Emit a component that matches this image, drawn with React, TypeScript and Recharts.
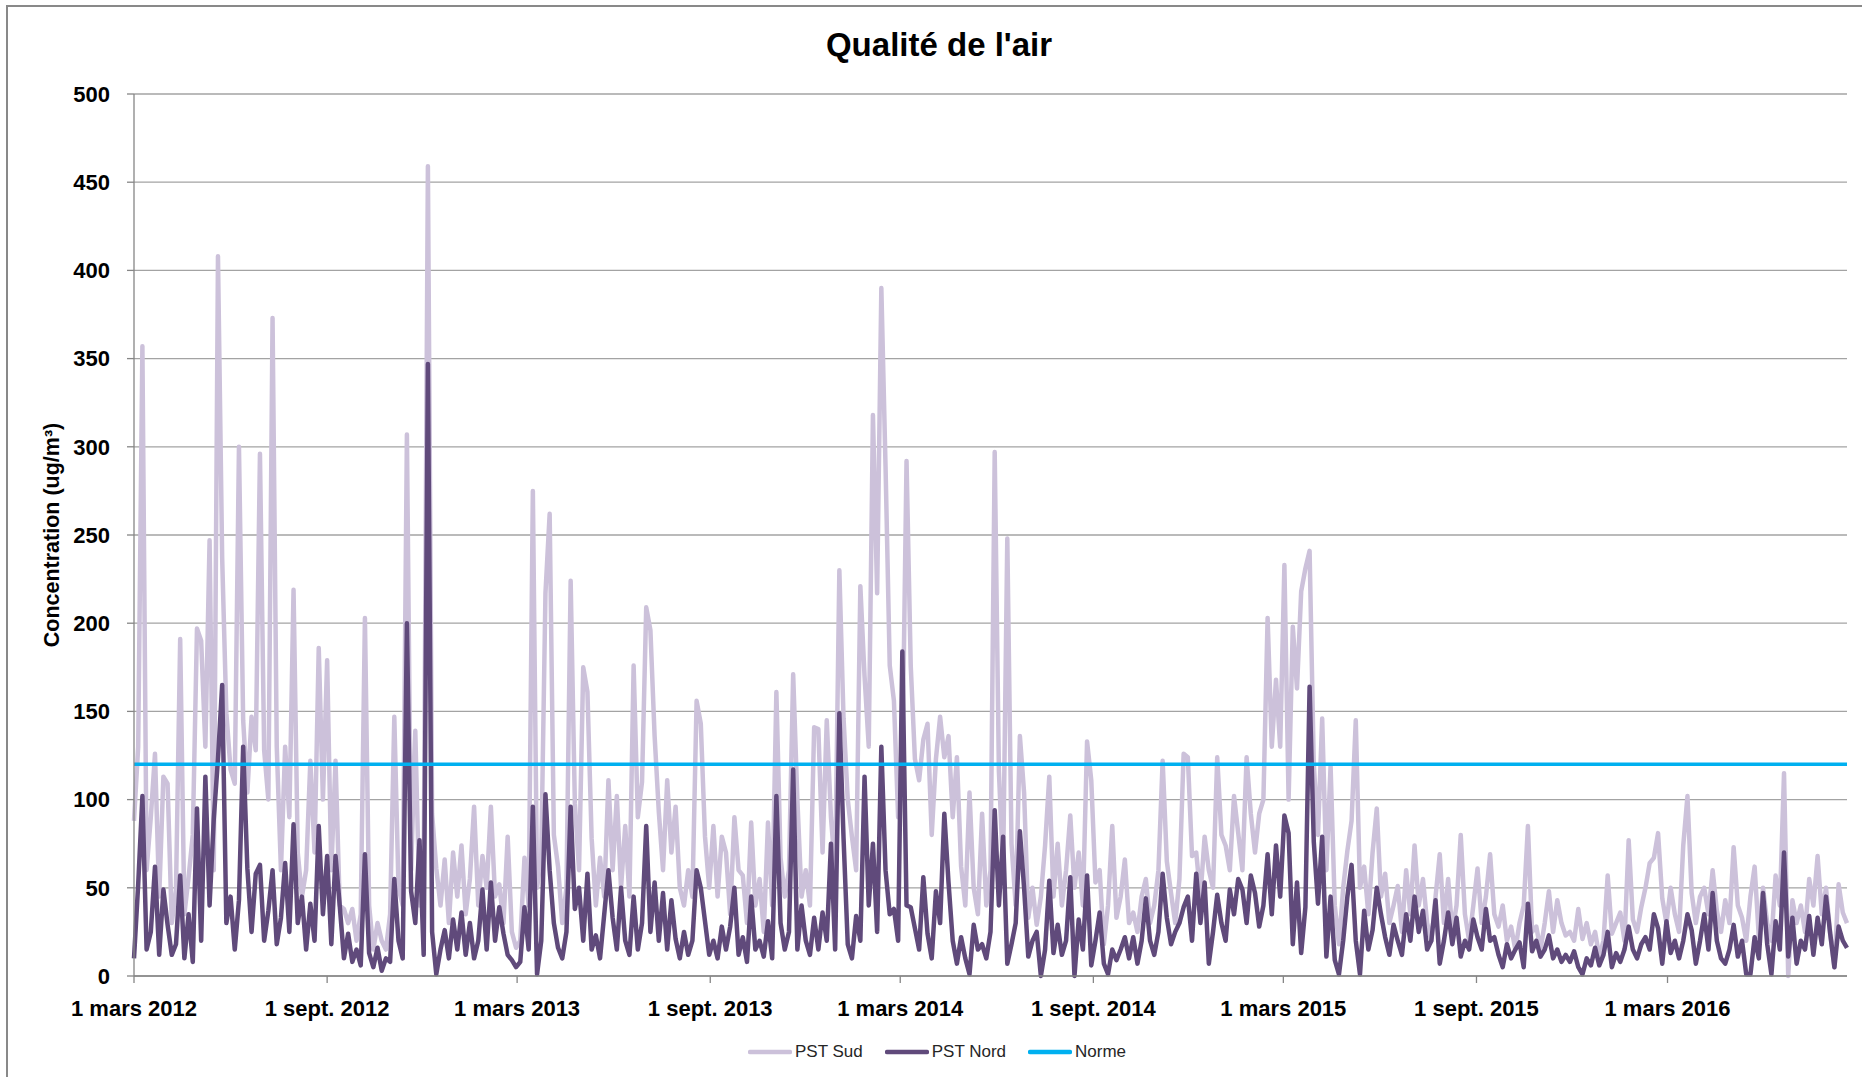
import React from 'react';
import {
  LineChart,
  Line,
  XAxis,
  YAxis,
  CartesianGrid,
  Legend,
} from 'recharts';

// one reading every 4 days, starting 1 mars 2012
const stepDays = 4;

const pstSud = [
  88, 130, 357, 60, 90, 126, 45, 113, 109, 30,
  49, 191, 35, 56, 80, 197, 190, 130, 247, 60,
  408, 237, 149, 117, 109, 300, 145, 104, 147, 128,
  296, 128, 100, 373, 130, 60, 130, 90, 219, 70,
  45, 60, 122, 70, 186, 100, 179, 60, 122, 40,
  38, 30, 38, 20, 35, 203, 40, 15, 30, 20,
  15, 35, 147, 50, 40, 307, 60, 139, 40, 60,
  459, 92, 61, 40, 66, 30, 70, 45, 74, 35,
  55, 96, 40, 68, 50, 96, 45, 52, 30, 79,
  25, 16, 20, 67, 40, 275, 50, 68, 217, 262,
  80, 62, 30, 50, 224, 98, 60, 175, 161, 78,
  40, 67, 45, 111, 60, 102, 50, 85, 45, 176,
  90, 110, 209, 196, 136, 93, 60, 111, 70, 96,
  50, 40, 60, 45, 156, 143, 79, 50, 85, 45,
  79, 70, 35, 90, 60, 57, 30, 87, 40, 55,
  25, 87, 40, 161, 67, 45, 60, 171, 100, 45,
  60, 40, 141, 140, 70, 145, 90, 60, 230, 146,
  100, 79, 60, 221, 170, 130, 318, 217, 390, 289,
  176, 156, 90, 120, 292, 176, 123, 111, 134, 143,
  80, 123, 147, 124, 136, 90, 124, 62, 40, 104,
  50, 35, 92, 40, 60, 297, 116, 60, 248, 75,
  40, 136, 104, 33, 50, 29, 45, 74, 113, 45,
  75, 40, 60, 91, 50, 70, 40, 133, 111, 53,
  60, 18, 40, 85, 33, 45, 66, 30, 36, 25,
  45, 55, 30, 40, 60, 122, 65, 47, 30, 55,
  126, 124, 68, 70, 45, 79, 60, 50, 124, 80,
  74, 60, 102, 81, 60, 124, 92, 70, 92, 100,
  203, 130, 168, 130, 233, 100, 198, 163, 218, 231,
  241, 120, 80, 146, 60, 119, 40, 18, 50, 71,
  88, 145, 50, 62, 35, 70, 95, 45, 58, 30,
  40, 51, 25, 60, 35, 74, 40, 55, 30, 20,
  45, 69, 30, 55, 25, 40, 80, 35, 20, 40,
  61, 30, 45, 69, 35, 28, 40, 20, 28, 15,
  30, 40, 85, 25, 28, 15, 30, 48, 25, 43,
  30, 23, 25, 20, 38, 21, 30, 18, 25, 11,
  20, 57, 24, 30, 36, 20, 77, 32, 25, 39,
  50, 64, 67, 81, 44, 30, 50, 35, 25, 74,
  102, 47, 30, 45, 50, 35, 60, 37, 25, 43,
  30, 73, 40, 33, 20, 45, 62, 22, 50, 30,
  20, 57, 40, 115, 0, 43, 30, 40, 25, 55,
  40, 68, 35, 50, 24, 5, 52, 36, 30,
];

const pstNord = [
  10, 52, 102, 15, 25, 62, 12, 49, 29, 12,
  18, 57, 10, 35, 8, 95, 20, 113, 40, 89,
  123, 165, 30, 45, 15, 43, 130, 61, 25, 58,
  63, 20, 37, 60, 18, 33, 64, 25, 86, 30,
  45, 15, 41, 20, 85, 35, 68, 18, 68, 40,
  10, 24, 8, 15, 6, 69, 13, 5, 16, 3,
  10, 8, 55, 20, 10, 200, 48, 30, 77, 12,
  347, 25, 1, 15, 26, 10, 32, 15, 36, 12,
  30, 10, 20, 49, 15, 53, 20, 39, 24, 12,
  9, 5, 8, 39, 15, 96, 1, 20, 103, 60,
  30, 16, 10, 25, 96, 38, 50, 20, 58, 15,
  23, 10, 35, 60, 33, 15, 50, 20, 12, 45,
  15, 30, 85, 25, 53, 20, 47, 15, 43, 21,
  10, 25, 12, 20, 60, 50, 31, 12, 20, 10,
  28, 15, 28, 50, 12, 22, 8, 45, 15, 20,
  11, 31, 10, 102, 30, 15, 25, 117, 15, 40,
  20, 12, 33, 15, 36, 20, 75, 15, 149, 78,
  18, 10, 34, 20, 113, 40, 75, 25, 130, 60,
  35, 38, 20, 184, 40, 39, 27, 15, 56, 24,
  10, 48, 30, 92, 53, 20, 7, 22, 10, 1,
  29, 15, 18, 10, 25, 94, 40, 79, 7, 18,
  30, 82, 50, 11, 20, 25, 0, 15, 54, 13,
  29, 12, 20, 56, 0, 32, 15, 57, 6, 20,
  36, 7, 1, 15, 9, 15, 22, 10, 22, 7,
  20, 44, 20, 12, 25, 58, 33, 18, 25, 30,
  39, 45, 20, 58, 30, 53, 7, 25, 46, 30,
  20, 49, 35, 55, 49, 30, 57, 47, 28, 40,
  69, 35, 74, 45, 91, 81, 18, 53, 13, 39,
  164, 76, 41, 79, 11, 45, 9, 1, 20, 45,
  63, 20, 1, 37, 15, 26, 50, 35, 22, 12,
  29, 20, 12, 35, 20, 45, 25, 37, 15, 20,
  43, 7, 20, 36, 18, 33, 11, 20, 15, 32,
  22, 15, 38, 20, 22, 12, 5, 18, 10, 15,
  19, 5, 41, 14, 20, 11, 15, 23, 10, 15,
  8, 12, 8, 14, 5, 1, 10, 6, 16, 6,
  12, 25, 5, 13, 8, 15, 28, 15, 10, 18,
  22, 15, 35, 27, 7, 31, 13, 20, 10, 20,
  35, 26, 7, 20, 35, 15, 47, 20, 10, 7,
  15, 29, 11, 20, 1, 1, 22, 10, 47, 18,
  1, 31, 15, 70, 11, 33, 7, 20, 15, 34,
  12, 33, 18, 45, 24, 5, 28, 20, 16,
];

const normeLevel = 120;

// days counted from 1 mars 2012
const tickDays = [0, 184, 365, 549, 730, 914, 1095, 1279, 1461];
const tickLabels = [
  '1 mars 2012',
  '1 sept. 2012',
  '1 mars 2013',
  '1 sept. 2013',
  '1 mars 2014',
  '1 sept. 2014',
  '1 mars 2015',
  '1 sept. 2015',
  '1 mars 2016',
];
const yTicks = [0, 50, 100, 150, 200, 250, 300, 350, 400, 450, 500];
const legendOrder = ['PST Sud', 'PST Nord', 'Norme'];

const data = pstSud.map((v, i) => ({
  day: i * stepDays,
  sud: v,
  nord: pstNord[i],
  norme: normeLevel,
}));

const FONT = '"Liberation Sans", Arial, sans-serif';
const AXIS_GRAY = '#868686';

const YLabel = ({viewBox}: any) => {
  const cx = 52;
  const cy = viewBox.y + viewBox.height / 2;
  return (
    <text
      x={cx}
      y={cy}
      transform={`rotate(-90 ${cx} ${cy})`}
      textAnchor='middle'
      dominantBaseline='central'
      fontFamily={FONT}
      fontWeight='bold'
      fontSize={21.5}
      fill='#000'
    >
      Concentration (ug/m³)
    </text>
  );
};

const renderLegend = ({payload}: any) => {
  const items = [...(payload || [])].sort(
    (a: any, b: any) => legendOrder.indexOf(a.value) - legendOrder.indexOf(b.value)
  );
  return (
    <div style={{display: 'flex', alignItems: 'center', height: 24}}>
      {items.map((entry: any, idx: number) => (
        <div
          key={entry.value}
          style={{
            display: 'flex',
            alignItems: 'center',
            marginLeft: idx === 0 ? 0 : 22,
          }}
        >
          <svg width={44} height={6}>
            <line
              x1={2}
              y1={3}
              x2={42}
              y2={3}
              stroke={entry.color}
              strokeWidth={4.5}
              strokeLinecap='round'
            />
          </svg>
          <span
            style={{
              fontFamily: FONT,
              fontSize: 17,
              color: '#262626',
              marginLeft: 3,
              whiteSpace: 'nowrap',
            }}
          >
            {entry.value}
          </span>
        </div>
      ))}
    </div>
  );
};

export default function App() {
  return (
    <div
      style={{
        position: 'absolute',
        left: 0,
        top: 0,
        width: 1862,
        height: 1077,
        background: '#fff',
        overflow: 'hidden',
      }}
    >
      <div
        style={{
          position: 'absolute',
          left: 6,
          top: 5,
          width: 1900,
          height: 1100,
          borderLeft: '2px solid #898989',
          borderTop: '2px solid #898989',
        }}
      />
      <div
        style={{
          position: 'absolute',
          left: 0,
          top: 28,
          width: 1878,
          textAlign: 'center',
          fontFamily: FONT,
          fontWeight: 'bold',
          fontSize: 33,
          lineHeight: '33px',
          color: '#000',
        }}
      >
        Qualité de l'air
      </div>
      <div style={{position: 'absolute', left: 0, top: 0}}>
        <LineChart
          width={1862}
          height={1077}
          data={data}
          margin={{top: 94, right: 15, left: 0, bottom: 0}}
        >
          <CartesianGrid vertical={false} stroke='#a3a3a3' strokeWidth={1.3} />
          <XAxis
            dataKey='day'
            type='number'
            domain={[0, 1632]}
            ticks={tickDays}
            interval={0}
            height={101}
            tickSize={7}
            tickMargin={17}
            stroke={AXIS_GRAY}
            strokeWidth={1.3}
            tick={{fill: '#000', fontFamily: FONT, fontWeight: 'bold', fontSize: 22}}
            tickFormatter={(v: number) => tickLabels[tickDays.indexOf(v)]}
          />
          <YAxis
            type='number'
            domain={[0, 500]}
            ticks={yTicks}
            interval={0}
            width={134}
            tickSize={7}
            tickMargin={17}
            stroke={AXIS_GRAY}
            strokeWidth={1.3}
            tick={{fill: '#000', fontFamily: FONT, fontWeight: 'bold', fontSize: 22}}
            label={<YLabel />}
          />
          <Line
            type='linear'
            dataKey='sud'
            name='PST Sud'
            stroke='#ccc1da'
            strokeWidth={4.5}
            strokeLinejoin='round'
            dot={false}
            activeDot={false}
            isAnimationActive={false}
          />
          <Line
            type='linear'
            dataKey='nord'
            name='PST Nord'
            stroke='#604a7b'
            strokeWidth={4.5}
            strokeLinejoin='round'
            dot={false}
            activeDot={false}
            isAnimationActive={false}
          />
          <Line
            type='linear'
            dataKey='norme'
            name='Norme'
            stroke='#00b0f0'
            strokeWidth={3.5}
            dot={false}
            activeDot={false}
            isAnimationActive={false}
          />
          <Legend
            layout='horizontal'
            verticalAlign='middle'
            align='center'
            content={renderLegend}
            wrapperStyle={{left: 748, top: 1040, width: 'auto'}}
          />
        </LineChart>
      </div>
    </div>
  );
}
